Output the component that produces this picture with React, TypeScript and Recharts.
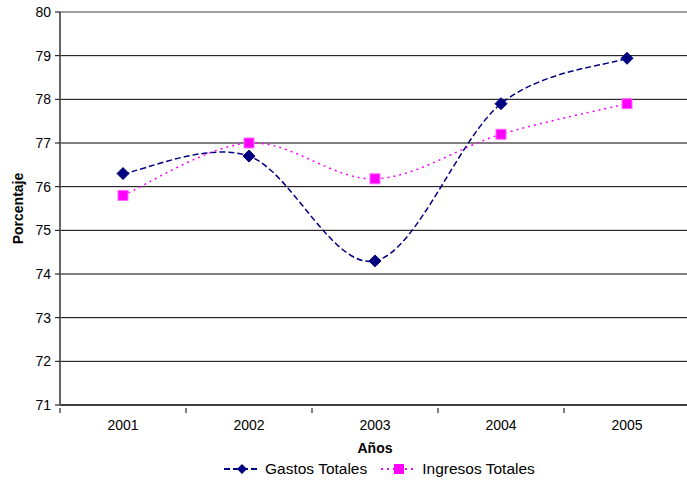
import React from "react";
import {
  LineChart,
  Line,
  XAxis,
  YAxis,
  CartesianGrid,
  ReferenceLine,
} from "recharts";

const years = ["2001", "2002", "2003", "2004", "2005"];
const gastosTotales = [76.3, 76.7, 74.3, 77.9, 78.94];
const ingresosTotales = [75.8, 77.0, 76.18, 77.2, 77.9];
const yTicks = [71, 72, 73, 74, 75, 76, 77, 78, 79, 80];

const CHART_W = 687;
const CHART_H = 481;
const Y_AXIS_W = 60;
const MARGIN = { top: 12, right: -3, bottom: 0, left: 0 };
const BAND = (CHART_W - Y_AXIS_W - MARGIN.left - MARGIN.right) / years.length;

const FONT = "'Liberation Sans', Arial, sans-serif";

const data = years.map((year, i) => ({
  idx: i + 1,
  year,
  gastos: gastosTotales[i],
  ingresos: ingresosTotales[i],
}));

// Excel-like smoothed line (Catmull-Rom style bezier)
const excelCurve = (context: any) => {
  let pts: number[][] = [];
  return {
    areaStart() {},
    areaEnd() {},
    lineStart() {
      pts = [];
    },
    point(x: number, y: number) {
      pts.push([+x, +y]);
    },
    lineEnd() {
      if (!pts.length) return;
      context.moveTo(pts[0][0], pts[0][1]);
      for (let i = 0; i < pts.length - 1; i++) {
        const p0 = pts[i - 1] || pts[i];
        const p1 = pts[i];
        const p2 = pts[i + 1];
        const p3 = pts[i + 2] || p2;
        context.bezierCurveTo(
          p1[0] + (p2[0] - p0[0]) / 6,
          p1[1] + (p2[1] - p0[1]) / 6,
          p2[0] - (p3[0] - p1[0]) / 6,
          p2[1] - (p3[1] - p1[1]) / 6,
          p2[0],
          p2[1]
        );
      }
    },
  };
};

const Diamond = ({ cx, cy }: any) => {
  if (cx == null || cy == null) return null;
  const r = 6;
  return (
    <path
      d={`M${cx},${cy - r} L${cx + r},${cy} L${cx},${cy + r} L${cx - r},${cy} Z`}
      fill="#000080"
      stroke="#000080"
    />
  );
};

const Square = ({ cx, cy }: any) => {
  if (cx == null || cy == null) return null;
  const r = 5;
  return (
    <rect
      x={cx - r}
      y={cy - r}
      width={r * 2}
      height={r * 2}
      fill="#FF00FF"
      stroke="#FF66FF"
      strokeWidth={1}
    />
  );
};

const renderXTick = ({ x, y, payload }: any) => {
  const bx = x - BAND / 2;
  return (
    <g>
      <line x1={bx} y1={y - 5} x2={bx} y2={y} stroke="#000" />
      <text
        x={x}
        y={y}
        dy={17}
        textAnchor="middle"
        fill="#000"
        fontSize={14}
        fontFamily={FONT}
      >
        {years[payload.value - 1]}
      </text>
    </g>
  );
};

const renderYTick = ({ x, y, payload }: any) => (
  <text
    x={x}
    y={y}
    dx={-2}
    dy={5}
    textAnchor="end"
    fill="#000"
    fontSize={14}
    fontFamily={FONT}
  >
    {payload.value}
  </text>
);

const ChartLegend = () => (
  <div
    style={{
      position: "absolute",
      left: 224,
      top: 460,
      display: "flex",
      alignItems: "center",
      fontFamily: FONT,
      fontSize: 15.5,
      color: "#000",
      whiteSpace: "nowrap",
    }}
  >
    <svg width={36} height={12}>
      <line x1={0} y1={6} x2={36} y2={6} stroke="#000080" strokeWidth={2} strokeDasharray="6 3" />
      <path d="M18,1 L23,6 L18,11 L13,6 Z" fill="#000080" />
    </svg>
    <span style={{ marginLeft: 5, marginRight: 14 }}>Gastos Totales</span>
    <svg width={36} height={12}>
      <line x1={0} y1={6} x2={36} y2={6} stroke="#FF00FF" strokeWidth={2} strokeDasharray="2 4" />
      <rect x={13} y={1} width={10} height={10} fill="#FF00FF" />
    </svg>
    <span style={{ marginLeft: 5 }}>Ingresos Totales</span>
  </div>
);

export default function App() {
  return (
    <div
      style={{
        position: "absolute",
        left: 0,
        top: 0,
        width: CHART_W,
        height: CHART_H,
        background: "#fff",
      }}
    >
      <LineChart width={CHART_W} height={CHART_H} data={data} margin={MARGIN}>
        <CartesianGrid horizontal vertical={false} stroke="#000" strokeOpacity={1} />
        <ReferenceLine y={80} stroke="#c0c0c0" />
        <XAxis
          dataKey="idx"
          type="number"
          domain={[0.5, 5.5]}
          ticks={[1, 2, 3, 4, 5]}
          allowDataOverflow
          height={76}
          axisLine={{ stroke: "#000", strokeWidth: 1 }}
          tickLine={false}
          tick={renderXTick}
          label={{
            value: "Años",
            position: "insideTop",
            offset: 38,
            fontWeight: "bold",
            fontSize: 14,
            fontFamily: FONT,
            fill: "#000",
          }}
        />
        <YAxis
          type="number"
          domain={[71, 80]}
          ticks={yTicks}
          width={Y_AXIS_W}
          axisLine={{ stroke: "#666", strokeWidth: 2 }}
          tickLine={{ stroke: "#000" }}
          tickSize={5}
          tick={renderYTick}
          label={{
            value: "Porcentaje",
            angle: -90,
            position: "insideLeft",
            offset: 18,
            fontWeight: "bold",
            fontSize: 14,
            fontFamily: FONT,
            fill: "#000",
            style: { textAnchor: "middle" },
          }}
        />
        <Line
          dataKey="gastos"
          name="Gastos Totales"
          type={excelCurve as any}
          stroke="#000080"
          strokeWidth={1.5}
          strokeDasharray="6 3"
          dot={<Diamond />}
          activeDot={false}
          isAnimationActive={false}
        />
        <Line
          dataKey="ingresos"
          name="Ingresos Totales"
          type={excelCurve as any}
          stroke="#FF00FF"
          strokeWidth={1.5}
          strokeDasharray="2 4"
          dot={<Square />}
          activeDot={false}
          isAnimationActive={false}
        />
      </LineChart>
      <ChartLegend />
    </div>
  );
}
